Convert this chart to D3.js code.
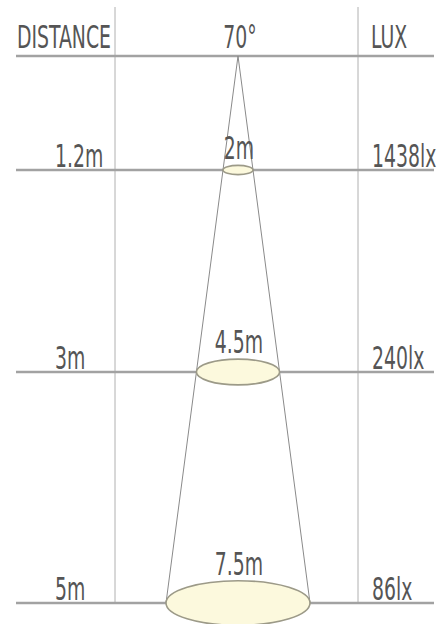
<!DOCTYPE html>
<html><head><meta charset="utf-8">
<script src="https://cdn.jsdelivr.net/npm/d3@7"></script>
<style>html,body{margin:0;padding:0;background:#fff;}svg{display:block;}</style>
</head><body>
<svg id="c" width="445" height="624"></svg>
<script>
// ---- data ----
const headers = ["DISTANCE", "70°", "LUX"];
const distances = [1.2, 3, 5];
const distanceLabels = ["1.2m", "3m", "5m"];
const spotDiameters = ["2m", "4.5m", "7.5m"];
const luxValues = [1438, 240, 86];

// ---- layout ----
const svg = d3.select("#c");
const y = d3.scaleLinear().domain([0, 1.2, 3, 5]).range([56, 170, 372, 603]);
const x = d3.scaleLinear().domain([0, 1]).range([16, 434]);
const colLeft = 115, colRight = 358, cx = 238;
const apexY = y(0);
const tanHalf = 72 / (y(5) - apexY);
const rxAt = d => (y(d) - apexY) * tanHalf;

const lineColor = "#a2a2a2", textColor = "#555555";
const font = "'DejaVu Sans Condensed','Liberation Sans Narrow',sans-serif";
const fs = 32, sx = 0.655;

// vertical lines
[colLeft, colRight].forEach(vx => {
  svg.append("line").attr("x1", vx).attr("x2", vx).attr("y1", 7).attr("y2", y(5))
    .attr("stroke", "#b0b0b0").attr("stroke-width", 1);
});
// horizontal lines
[0].concat(distances).forEach(d => {
  svg.append("line").attr("x1", x(0)).attr("x2", x(1)).attr("y1", y(d)).attr("y2", y(d))
    .attr("stroke", lineColor).attr("stroke-width", 2.5);
});

// beam cone
const last = distances[distances.length - 1];
svg.append("path")
  .attr("d", d3.line()([[cx - rxAt(last), y(last)], [cx, apexY], [cx + rxAt(last), y(last)]]))
  .attr("fill", "none").attr("stroke", "#8a8a8a").attr("stroke-width", 1);

// spots
svg.selectAll("ellipse.spot").data(distances).join("ellipse")
  .attr("class", "spot")
  .attr("cx", cx).attr("cy", d => y(d))
  .attr("rx", d => rxAt(d)).attr("ry", d => rxAt(d) * 0.31)
  .attr("fill", "#fcf9dd").attr("stroke", "#9c9a88").attr("stroke-width", 1.6);

function label(txt, tx, ty, anchor) {
  svg.append("g").attr("transform", `translate(${tx},${ty}) scale(${sx},1)`)
    .append("text").text(txt)
    .attr("text-anchor", anchor)
    .attr("font-family", font).attr("font-size", fs)
    .attr("fill", textColor);
}

// headers
label(headers[0], 17, 48, "start");
label(headers[1], cx + 2, 48, "middle");
label(headers[2], 371, 48, "start");

// rows
distances.forEach((d, i) => {
  label(distanceLabels[i], 55, y(d) - 3, "start");
  label(luxValues[i] + "lx", 372, y(d) - 3, "start");
  label(spotDiameters[i], cx + 1, y(d) - rxAt(d) * 0.31 - 6, "middle");
});
</script>
</body></html>
